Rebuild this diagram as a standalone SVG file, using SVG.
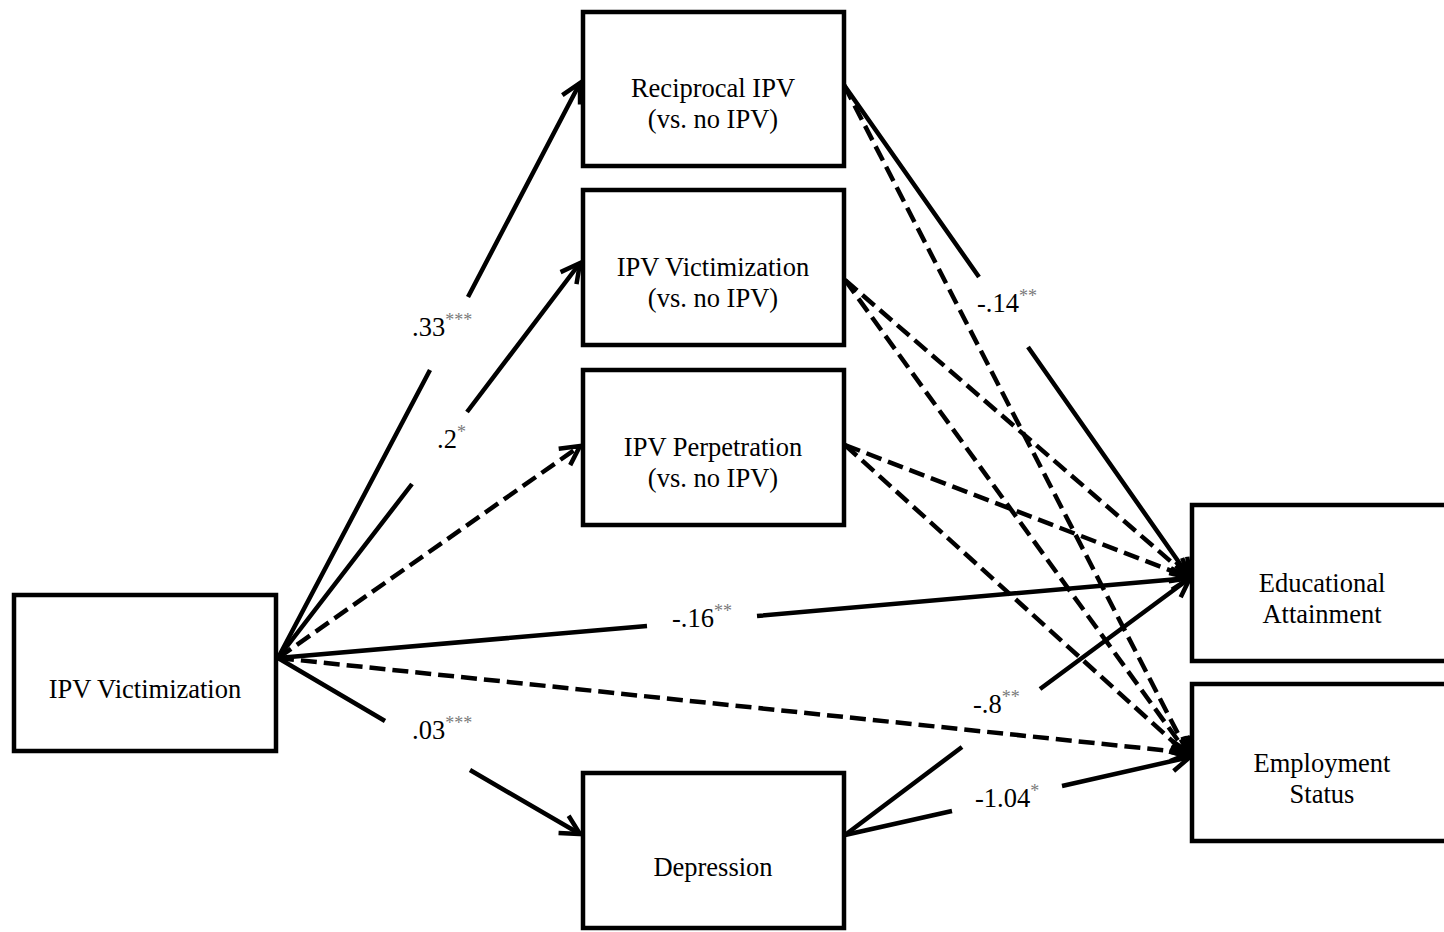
<svg xmlns="http://www.w3.org/2000/svg" width="1444" height="932" viewBox="0 0 1444 932">
<style>
.box{fill:#fff;stroke:#000;stroke-width:4.5}
.t{font-family:'Liberation Serif','DejaVu Serif',serif;font-size:26.5px;fill:#000;text-anchor:middle}
.l{font-family:'Liberation Serif','DejaVu Serif',serif;font-size:26.5px;fill:#000}
.s{font-size:18px;fill:#7a7a7a}
.c{fill:none;stroke:#000;stroke-width:4.5}
.d{stroke-dasharray:16 7}
</style>
<defs>
<marker id="ah" markerUnits="userSpaceOnUse" markerWidth="40" markerHeight="40" viewBox="-30 -20 40 40" refX="0" refY="0" orient="auto" overflow="visible">
<path d="M-19,-10 L0,0 L-19,10" fill="none" stroke="#000" stroke-width="4.5"/>
</marker>
</defs>
<rect width="1444" height="932" fill="#fff"/>
<g id="connectors">
<path class="c" marker-end="url(#ah)" d="M278,658 L430,370 M468,297 L580,83"/>
<path class="c" marker-end="url(#ah)" d="M278,658 L412,484 M467,412 L580,263"/>
<path class="c d" marker-end="url(#ah)" d="M278,658 L580,446"/>
<path class="c" marker-end="url(#ah)" d="M278,658 L647,626 M757,616 L1190,578"/>
<path class="c d" marker-end="url(#ah)" d="M278,658 L1190,753"/>
<path class="c" marker-end="url(#ah)" d="M278,658 L385,721 M470,770 L580,834"/>
<path class="c" marker-end="url(#ah)" d="M844,85 L979,277 M1028,347 L1190,578"/>
<path class="c d" marker-end="url(#ah)" d="M844,85 L1190,757"/>
<path class="c d" marker-end="url(#ah)" d="M845,280 L1190,578"/>
<path class="c d" marker-end="url(#ah)" d="M845,280 L1190,757"/>
<path class="c d" marker-end="url(#ah)" d="M845,445 L1190,578"/>
<path class="c d" marker-end="url(#ah)" d="M845,445 L1190,757"/>
<path class="c" marker-end="url(#ah)" d="M845,835 L962,747 M1040,689 L1190,578"/>
<path class="c" marker-end="url(#ah)" d="M845,835 L952,811 M1062,786 L1190,757"/>
</g>
<g id="labels">
<text class="l" x="412" y="336">.33<tspan class="s" dy="-10">***</tspan></text>
<text class="l" x="437" y="448">.2<tspan class="s" dy="-10">*</tspan></text>
<text class="l" x="977" y="312">-.14<tspan class="s" dy="-10">**</tspan></text>
<text class="l" x="672" y="627">-.16<tspan class="s" dy="-10">**</tspan></text>
<text class="l" x="412" y="739">.03<tspan class="s" dy="-10">***</tspan></text>
<text class="l" x="973" y="713">-.8<tspan class="s" dy="-10">**</tspan></text>
<text class="l" x="975" y="807">-1.04<tspan class="s" dy="-10">*</tspan></text>
</g>
<g id="reciprocal">
<rect class="box" x="583" y="12" width="261" height="154"/>
<text class="t" x="713" y="97">Reciprocal IPV</text>
<text class="t" x="713" y="128">(vs. no IPV)</text>
</g>
<g id="victimization-mid">
<rect class="box" x="583" y="190" width="261" height="155"/>
<text class="t" x="713" y="276">IPV Victimization</text>
<text class="t" x="713" y="307">(vs. no IPV)</text>
</g>
<g id="perpetration">
<rect class="box" x="583" y="370" width="261" height="155"/>
<text class="t" x="713" y="456">IPV Perpetration</text>
<text class="t" x="713" y="487">(vs. no IPV)</text>
</g>
<g id="depression">
<rect class="box" x="583" y="773" width="261" height="155"/>
<text class="t" x="713" y="876">Depression</text>
</g>
<g id="victimization">
<rect class="box" x="14" y="595" width="262" height="156"/>
<text class="t" x="145" y="698">IPV Victimization</text>
</g>
<g id="education">
<rect class="box" x="1192" y="505" width="261" height="156"/>
<text class="t" x="1322" y="592">Educational</text>
<text class="t" x="1322" y="623">Attainment</text>
</g>
<g id="employment">
<rect class="box" x="1192" y="684" width="261" height="157"/>
<text class="t" x="1322" y="772">Employment</text>
<text class="t" x="1322" y="803">Status</text>
</g>
</svg>
